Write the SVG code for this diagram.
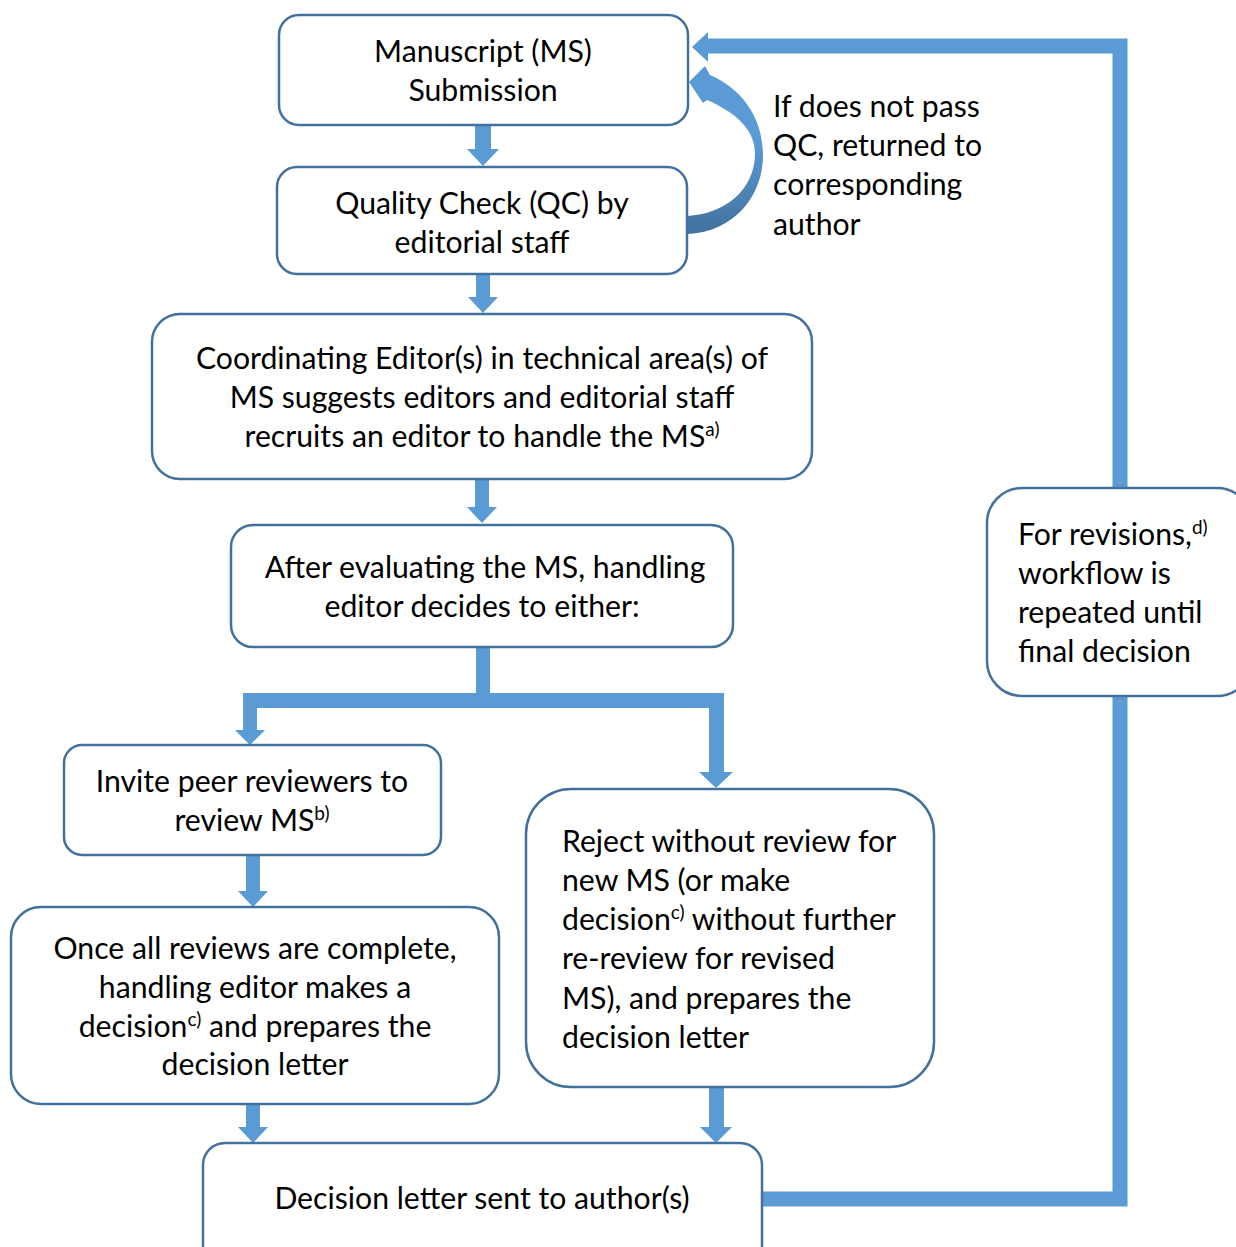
<svg xmlns="http://www.w3.org/2000/svg" width="1236" height="1247" viewBox="0 0 1236 1247">
<style>
.box{fill:#fff;stroke:#41719C;stroke-width:2.5}
.arr{fill:#5B9BD5}
.line{fill:none;stroke:#5B9BD5;stroke-width:15;stroke-linejoin:miter}
text{font-family:Lato,"Open Sans","Liberation Sans",sans-serif;font-size:30.2px;fill:#000}
.c{text-anchor:middle}
.sup{font-size:19px}
</style>
<defs>
<linearGradient id="g" gradientUnits="userSpaceOnUse" x1="0" y1="140" x2="0" y2="235">
<stop offset="0" stop-color="#5B9BD5"/>
<stop offset="1" stop-color="#41719C"/>
</linearGradient>
</defs>
<g id="connectors">
<path class="arr" d="M475,125 H491 V149 H499 L483,166 L467,149 H475 Z"/>
<path class="arr" d="M476,274 H490 V297 H498 L483,313 L468,297 H476 Z"/>
<path class="arr" d="M475,479 H489 V507 H497 L482,523 L467,507 H475 Z"/>
<path class="arr" d="M476,647 H490 V693 H476 Z"/>
<path class="arr" d="M243,693 H724 V772 H733 L716,788 L699,772 H709 V708 H257 V730 H265 L250,745 L235,730 H243 Z"/>
<path class="arr" d="M246,855 H260 V891 H268 L253,907 L238,891 H246 Z"/>
<path class="arr" d="M246,1104 H260 V1127 H268 L253,1143 L238,1127 H246 Z"/>
<path class="arr" d="M709,1087 H724 V1127 H732 L716,1143 L700,1127 H709 Z"/>
<polyline class="line" points="762,1199 1120,1199 1120,46 707,46"/>
<path class="arr" d="M692,47 L708,32 L708,62 Z"/>
<path fill="url(#g)" d="M687,234 C735,232 764,195 763,153 C762,115 740,88 710,75 L705,66 L689,82 L703,103 L707,100 C735,112 756,130 755,155 C754,190 725,214 687,216 Z"/>
</g>
<g id="n1">
<rect class="box" x="279" y="15" width="409" height="110" rx="20"/>
<text class="c" x="483" y="62">Manuscript (MS)</text>
<text class="c" x="483" y="101">Submission</text>
</g>
<g id="n2">
<rect class="box" x="277" y="167" width="410" height="107" rx="20"/>
<text class="c" x="482" y="214">Quality Check (QC) by</text>
<text class="c" x="482" y="253">editorial staff</text>
</g>
<g id="qc-label">
<text x="773" y="117">If does not pass</text>
<text x="773" y="156">QC, returned to</text>
<text x="773" y="195">corresponding</text>
<text x="773" y="235">author</text>
</g>
<g id="n3">
<rect class="box" x="152" y="314" width="660" height="165" rx="28"/>
<text class="c" x="482" y="369">Coordinating Editor(s) in technical area(s) of</text>
<text class="c" x="482" y="408">MS suggests editors and editorial staff</text>
<text class="c" x="482" y="447">recruits an editor to handle the MS<tspan class="sup" dy="-11">a)</tspan></text>
</g>
<g id="n4">
<rect class="box" x="231" y="525" width="502" height="122" rx="22"/>
<text class="c" x="485" y="578">After evaluating the MS, handling</text>
<text class="c" x="482" y="617">editor decides to either:</text>
</g>
<g id="n5">
<rect class="box" x="64" y="745" width="377" height="110" rx="18"/>
<text class="c" x="252" y="792">Invite peer reviewers to</text>
<text class="c" x="252" y="831">review MS<tspan class="sup" dy="-11">b)</tspan></text>
</g>
<g id="n6">
<rect class="box" x="11" y="907" width="488" height="197" rx="30"/>
<text class="c" x="255" y="959">Once all reviews are complete,</text>
<text class="c" x="255" y="998">handling editor makes a</text>
<text class="c" x="255" y="1037">decision<tspan class="sup" dy="-11">c)</tspan><tspan dy="11"> and prepares the</tspan></text>
<text class="c" x="255" y="1075">decision letter</text>
</g>
<g id="n7">
<rect class="box" x="526" y="789" width="408" height="298" rx="45"/>
<text x="562" y="852">Reject without review for</text>
<text x="562" y="891">new MS (or make</text>
<text x="562" y="930">decision<tspan class="sup" dy="-11">c)</tspan><tspan dy="11"> without further</tspan></text>
<text x="562" y="969">re-review for revised</text>
<text x="562" y="1009">MS), and prepares the</text>
<text x="562" y="1048">decision letter</text>
</g>
<g id="n8">
<rect class="box" x="203" y="1143" width="559" height="130" rx="22"/>
<text class="c" x="482" y="1209">Decision letter sent to author(s)</text>
</g>
<g id="n9">
<rect class="box" x="987" y="488" width="265" height="208" rx="35"/>
<text x="1018" y="545">For revisions,<tspan class="sup" dy="-11">d)</tspan></text>
<text x="1018" y="584">workflow is</text>
<text x="1018" y="623">repeated until</text>
<text x="1018" y="662">final decision</text>
</g>
</svg>
